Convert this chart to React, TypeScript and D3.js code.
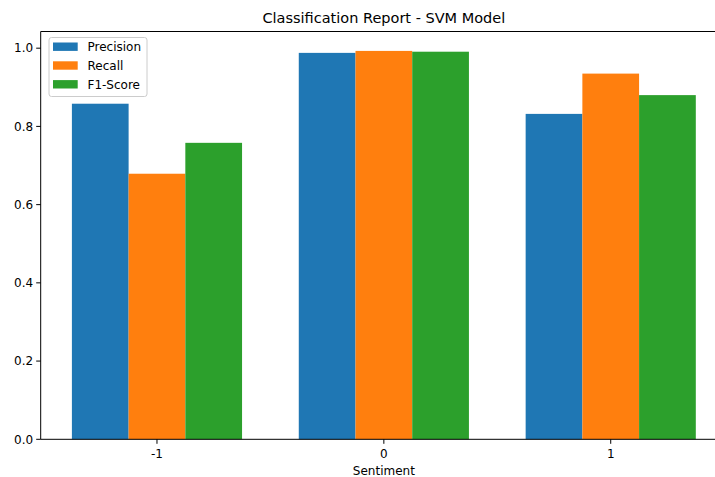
import React, { useEffect, useRef } from 'react';
import * as d3 from 'd3';

const categories = [-1, 0, 1];
const precision = [0.858, 0.988, 0.832];
const recall = [0.679, 0.993, 0.935];
const f1Score = [0.758, 0.991, 0.88];
const seriesNames = ['Precision', 'Recall', 'F1-Score'];
const seriesColors = ['#1f77b4', '#ff7f0e', '#2ca02c'];
const yTicks = [0, 0.2, 0.4, 0.6, 0.8, 1.0];

const W = 715;
const H = 477;
const FONT = 'DejaVu Sans, sans-serif';

export default function App() {
  const ref = useRef(null);

  useEffect(() => {
    document.body.style.margin = '0';
    const svg = d3.select(ref.current);
    svg.selectAll('*').remove();

    const left = 40.7, right = 727, top = 31.5, bottom = 439.3;
    const barW = 0.25;
    const allSeries = [precision, recall, f1Score];
    const yMax = d3.max(allSeries.flat()) * 1.05;

    const x = d3.scaleLinear().domain([-1.5125, 1.5125]).range([left, right]);
    const y = d3.scaleLinear().domain([0, yMax]).range([bottom, top]);

    // bars
    allSeries.forEach((vals, si) => {
      svg.append('g')
        .selectAll('rect')
        .data(vals)
        .join('rect')
        .attr('x', (d, i) => x(categories[i] + (si - 1) * barW - barW / 2))
        .attr('y', (d) => y(d))
        .attr('width', x(barW) - x(0))
        .attr('height', (d) => y(0) - y(d))
        .attr('fill', seriesColors[si]);
    });

    // spines
    const ax = svg.append('g').attr('stroke', '#000').attr('stroke-width', 1);
    ax.append('line').attr('x1', left).attr('x2', right).attr('y1', bottom).attr('y2', bottom);
    ax.append('line').attr('x1', left).attr('x2', right).attr('y1', top).attr('y2', top);
    ax.append('line').attr('x1', left).attr('x2', left).attr('y1', top).attr('y2', bottom);
    ax.append('line').attr('x1', right).attr('x2', right).attr('y1', top).attr('y2', bottom);

    // y axis
    const yAxis = svg.append('g');
    yTicks.forEach((t) => {
      yAxis.append('line')
        .attr('x1', left - 4.5).attr('x2', left)
        .attr('y1', y(t)).attr('y2', y(t))
        .attr('stroke', '#000');
      yAxis.append('text')
        .attr('x', left - 7.5).attr('y', y(t))
        .attr('dy', '0.35em')
        .attr('text-anchor', 'end')
        .style('font-family', FONT).style('font-size', '12px')
        .attr('fill', '#000')
        .text(d3.format('.1f')(t));
    });

    // x axis
    const xAxis = svg.append('g');
    categories.forEach((c) => {
      xAxis.append('line')
        .attr('x1', x(c)).attr('x2', x(c))
        .attr('y1', bottom).attr('y2', bottom + 4.5)
        .attr('stroke', '#000');
      xAxis.append('text')
        .attr('x', x(c)).attr('y', bottom + 14)
        .attr('dy', '0.35em')
        .attr('text-anchor', 'middle')
        .style('font-family', FONT).style('font-size', '12px')
        .attr('fill', '#000')
        .text(String(c));
    });

    svg.append('text')
      .attr('x', (left + right) / 2).attr('y', 471)
      .attr('dy', '0.35em')
      .attr('text-anchor', 'middle')
      .style('font-family', FONT).style('font-size', '12px')
      .text('Sentiment');

    svg.append('text')
      .attr('x', (left + right) / 2).attr('y', 18)
      .attr('dy', '0.35em')
      .attr('text-anchor', 'middle')
      .style('font-family', FONT).style('font-size', '14.5px')
      .text('Classification Report - SVM Model');

    // legend
    const lg = svg.append('g');
    lg.append('rect')
      .attr('x', 49).attr('y', 37.5)
      .attr('width', 98).attr('height', 59)
      .attr('rx', 2.5)
      .attr('fill', '#fff').attr('fill-opacity', 0.8)
      .attr('stroke', '#ccc');
    seriesNames.forEach((name, i) => {
      const cy = 46.7 + i * 18.8;
      lg.append('rect')
        .attr('x', 53).attr('y', cy - 4.2)
        .attr('width', 24.7).attr('height', 8.4)
        .attr('fill', seriesColors[i]);
      lg.append('text')
        .attr('x', 87.5).attr('y', cy)
        .attr('dy', '0.35em')
        .style('font-family', FONT).style('font-size', '12px')
        .text(name);
    });
  }, []);

  return (
    <svg ref={ref} width={W} height={H} style={{ display: 'block', background: '#fff' }} />
  );
}
